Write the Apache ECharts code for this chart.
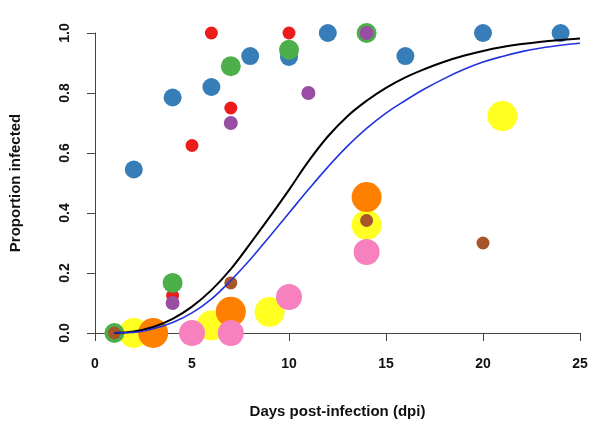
<!DOCTYPE html>
<html>
<head>
<meta charset="utf-8">
<script src="https://cdn.jsdelivr.net/npm/echarts@6/dist/echarts.min.js"></script>
<style>html,body{margin:0;padding:0;background:#fff}#c{width:600px;height:427px}</style>
</head>
<body>
<div id="c"></div>
<script>
// Observed proportions infected: [dpi, proportion]
const yellowPts = [[2,0],[6,0.025],[9,0.07],[14,0.36],[21,0.723]];
const orangePts = [[3,0],[7,0.071],[14,0.453]];
const pinkPts   = [[5,0],[7,0],[10,0.12],[14,0.27]];
const bluePts   = [[2,0.545],[4,0.785],[6,0.82],[8,0.923],[10,0.92],[12,1.0],[16,0.923],[20,1.0],[24,1.0]];
const redPts    = [[1,0],[4,0.125],[5,0.625],[6,1.0],[7,0.75],[10,1.0]];
const greenPts  = [[1,0],[4,0.167],[7,0.889],[10,0.944],[14,1.0]];
const purplePts = [[4,0.1],[7,0.7],[11,0.8],[14,1.0]];
const brownPts  = [[1,0],[7,0.167],[14,0.375],[20,0.3]];

// Fitted curves
const curveX     = [1,2,3,4,5,6,7,8,9,10,11,12,13,14,15,16,17,18,19,20,21,22,23,24,25];
const blackCurve = [0,0.005,0.02,0.047,0.088,0.143,0.213,0.298,0.386,0.477,0.572,0.655,0.722,0.774,0.817,0.852,0.880,0.904,0.924,0.940,0.953,0.963,0.971,0.977,0.982];
const blueCurve  = [0,0.002,0.014,0.035,0.067,0.113,0.175,0.245,0.322,0.40,0.478,0.553,0.622,0.682,0.733,0.775,0.814,0.848,0.878,0.903,0.922,0.938,0.950,0.959,0.966];

const xTicks = [0,5,10,15,20,25];
const yTicks = [0,0.2,0.4,0.6,0.8,1.0];

const FONT = 'Liberation Sans';
const chart = echarts.init(document.getElementById('c'), null, {renderer:'canvas'});

function sc(data, color, size){
  return {type:'scatter', data, symbol:'circle', symbolSize:size, clip:false,
    itemStyle:{color, opacity:1}, emphasis:{disabled:true}, z:2};
}
function ln(ys, color, w){
  return {type:'line', data: curveX.map((x,i)=>[x, ys[i]]), smooth:0.4, showSymbol:false,
    lineStyle:{color, width:w}, z:5, emphasis:{disabled:true}};
}

chart.setOption({
  animation:false,
  backgroundColor:'#fff',
  grid:{left:93, right:20, top:33, bottom:94},
  xAxis:{type:'value', min:xTicks[0], max:xTicks[xTicks.length-1], interval:5,
    name:'Days post-infection (dpi)', nameLocation:'middle', nameGap:71,
    nameTextStyle:{fontFamily:FONT, fontWeight:'bold', fontSize:15, color:'#111'},
    axisLine:{show:true, lineStyle:{color:'#444', width:1}},
    axisTick:{show:true, length:8, lineStyle:{color:'#444'}},
    axisLabel:{fontFamily:FONT, fontWeight:'bold', fontSize:14, color:'#111', margin:24},
    splitLine:{show:false}},
  yAxis:{type:'value', min:yTicks[0], max:yTicks[yTicks.length-1], interval:0.2,
    name:'Proportion infected', nameLocation:'middle', nameGap:72, nameRotate:90,
    nameTextStyle:{fontFamily:FONT, fontWeight:'bold', fontSize:15, color:'#111'},
    axisLine:{show:true, lineStyle:{color:'#444', width:1}},
    axisTick:{show:true, length:8, lineStyle:{color:'#444'}},
    axisLabel:{fontFamily:FONT, fontWeight:'bold', fontSize:14, color:'#111', margin:23, rotate:90,
      formatter:v=>v.toFixed(1)},
    splitLine:{show:false}},
  series:[
    sc(yellowPts,'#ffff22',30),
    sc(orangePts,'#ff7f00',30),
    sc(pinkPts,'#f781bf',26),
    sc(bluePts,'#377eb8',18),
    sc(redPts,'#ec1c1c',13),
    sc(greenPts,'#4daf4a',20),
    sc(purplePts,'#984ea3',14),
    sc(brownPts,'#a65628',13),
    ln(blackCurve,'#000',2),
    ln(blueCurve,'#2233dd',1.6)
  ]
});
</script>
</body>
</html>
